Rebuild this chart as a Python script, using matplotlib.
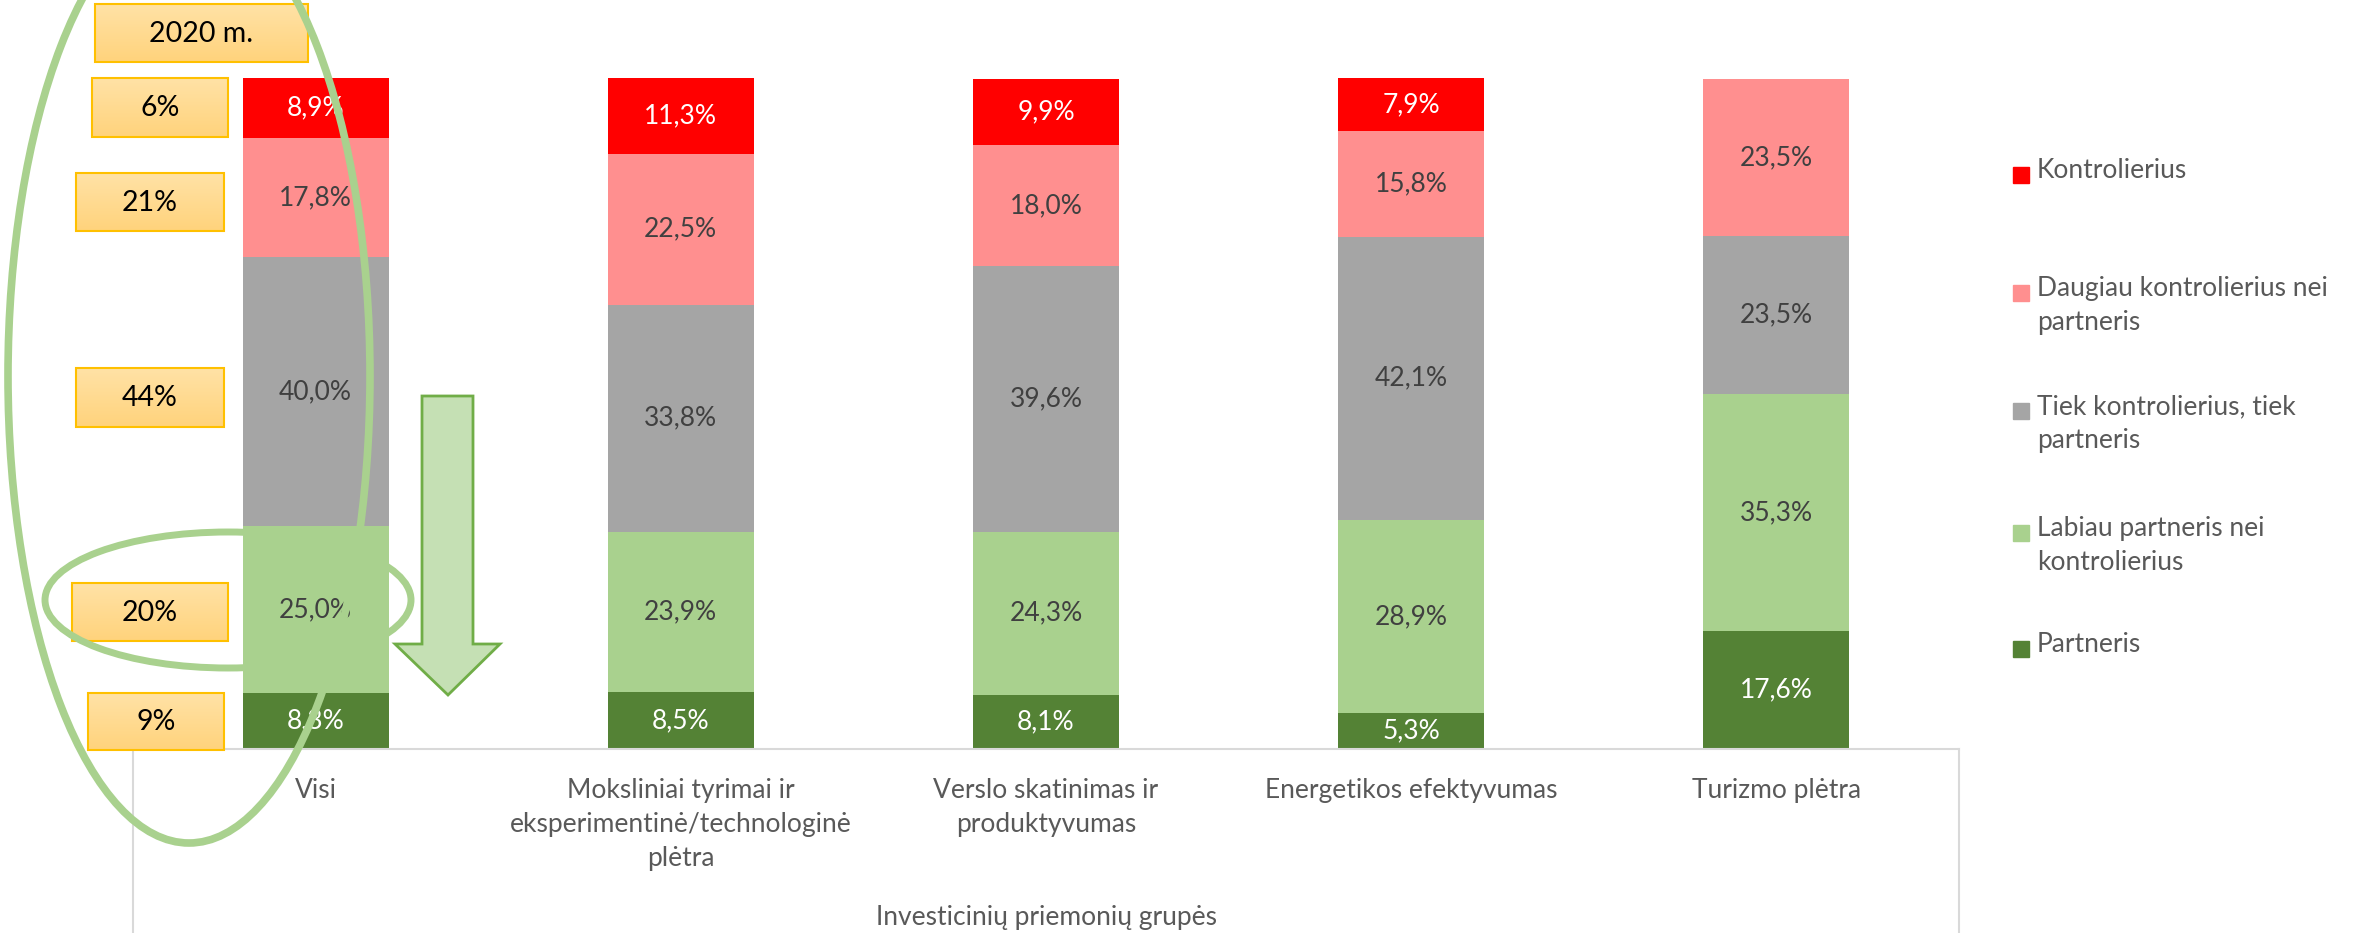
import numpy as np
import matplotlib
matplotlib.use("Agg")
import matplotlib.pyplot as plt
from matplotlib.patches import Ellipse, Polygon, Rectangle
from matplotlib.colors import LinearSegmentedColormap

# ---------------- data ----------------
categories = ["Visi",
              "Moksliniai tyrimai ir\neksperimentinė/technologinė\nplėtra",
              "Verslo skatinimas ir\nproduktyvumas",
              "Energetikos efektyvumas",
              "Turizmo plėtra"]
series_names = ["Partneris",
                "Labiau partneris nei\nkontrolierius",
                "Tiek kontrolierius, tiek\npartneris",
                "Daugiau kontrolierius nei\npartneris",
                "Kontrolierius"]
partneris = [8.3, 8.5, 8.1, 5.3, 17.6]
labiau_partneris = [25.0, 23.9, 24.3, 28.9, 35.3]
tiek_tiek = [40.0, 33.8, 39.6, 42.1, 23.5]
daugiau_kontrolierius = [17.8, 22.5, 18.0, 15.8, 23.5]
kontrolierius = [8.9, 11.3, 9.9, 7.9, 0.0]
axis_title = "Investicinių priemonių grupės"
year_label = "2020 m."
box_labels = ["6%", "21%", "44%", "20%", "9%"]

colors = ["#548235", "#A9D18E", "#A5A5A5", "#FF8F8F", "#FF0000"]
label_colors = ["white", "#404040", "#404040", "#404040", "white"]

FONT = ["Lato", "DejaVu Sans"]
plt.rcParams["font.family"] = FONT
FS = 19
LS = 1.45

W, H = 2363, 933
fig = plt.figure(figsize=(W / 100, H / 100), dpi=100)

# main axes: x from 133 to 1959 px, y from 78 (100%) to 749 (0%)
ax = fig.add_axes([133 / W, (H - 749) / H, (1959 - 133) / W, (749 - 78) / H])
x = np.arange(len(categories))
values = [partneris, labiau_partneris, tiek_tiek, daugiau_kontrolierius, kontrolierius]
bottom = np.zeros(len(categories))
for vals, col, lc in zip(values, colors, label_colors):
    vals = np.array(vals)
    ax.bar(x, vals, width=0.4, bottom=bottom, color=col, zorder=2)
    for xi, b, v in zip(x, bottom, vals):
        if v > 0:
            ax.text(xi, b + v / 2, f"{v:.1f}".replace(".", ",") + "%",
                    ha="center", va="center", fontsize=FS, color=lc, zorder=3)
    bottom += vals

ax.set_xlim(-0.5, len(categories) - 0.5)
ax.set_ylim(0, 100)
ax.set_yticks([])
ax.set_xticks(x)
ax.set_xticklabels(categories, fontsize=FS, color="#595959", linespacing=LS)
ax.tick_params(axis="x", length=0, pad=21)
for s in ["top", "left", "right"]:
    ax.spines[s].set_visible(False)
ax.spines["bottom"].set_color("#D9D9D9")
ax.spines["bottom"].set_linewidth(1.5)
ax.patch.set_alpha(0)

# overlay axes in pixel coordinates
ov = fig.add_axes([0, 0, 1, 1], zorder=5)
ov.axis("off")
ov.patch.set_alpha(0)

# frame lines of category axis box
ov.plot([133, 133], [749, H], color="#D9D9D9", lw=1.5)
ov.plot([1959, 1959], [749, H], color="#D9D9D9", lw=1.5)
ov.text((133 + 1959) / 2, 918, axis_title, ha="center", va="center",
        fontsize=FS, color="#595959")

# legend (manual)
leg_y = [175, 293, 411, 533, 649]
for name, col, y in zip(series_names[::-1], colors[::-1], leg_y):
    ov.add_patch(Rectangle((2013, y - 8), 16, 16, color=col))
    ov.text(2037, y - 17, name, ha="left", va="top", fontsize=FS,
            color="#595959", linespacing=LS)

# annotation boxes
grad = np.linspace(0, 1, 50).reshape(-1, 1)
cmap = LinearSegmentedColormap.from_list("g", ["#FFE2A6", "#FFD37C"])
boxes = [(95, 308, 4, 62), (92, 228, 78, 137), (76, 224, 173, 231),
         (76, 224, 368, 427), (72, 228, 583, 641), (88, 224, 693, 750)]
texts = [year_label] + box_labels
for (x0, x1, y0, y1), t in zip(boxes, texts):
    ov.imshow(grad, extent=(x0, x1, y1, y0), cmap=cmap, aspect="auto", zorder=6)
    ov.add_patch(Rectangle((x0, y0), x1 - x0, y1 - y0, fill=False,
                           edgecolor="#FFC000", lw=1.5, zorder=7))
    ov.text((x0 + x1) / 2, (y0 + y1) / 2 + 1, t, ha="center", va="center",
            fontsize=20.5, color="black", zorder=8)

# arrow
arrow = Polygon([(422, 396), (473, 396), (473, 644), (500, 644), (448, 695),
                 (395, 644), (422, 644)], closed=True, facecolor="#C5E0B4",
                edgecolor="#70AD47", lw=2, zorder=6)
ov.add_patch(arrow)

# ellipses
ov.add_patch(Ellipse((189, 376), 362, 934, fill=False, edgecolor="#A9D18E",
                     lw=5.5, zorder=9))
ov.add_patch(Ellipse((228, 600), 366, 136, fill=False, edgecolor="#A9D18E",
                     lw=5, zorder=9))

ov.set_xlim(0, W)
ov.set_ylim(H, 0)

fig.savefig("out.png", dpi=100)
